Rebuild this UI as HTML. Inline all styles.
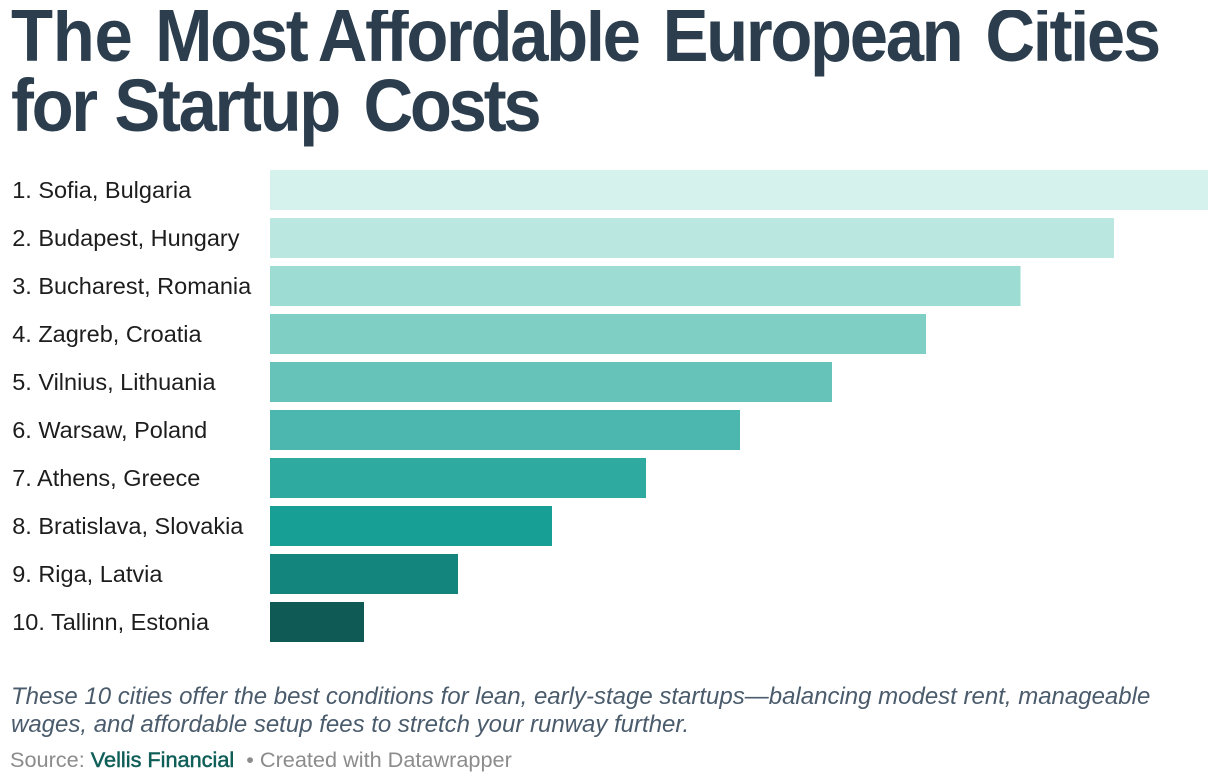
<!DOCTYPE html>
<html lang="en">
<head>
<meta charset="utf-8">
<title>The Most Affordable European Cities for Startup Costs</title>
<style>
html,body{margin:0;padding:0;background:#fff;}
#page{position:relative;width:1220px;height:784px;overflow:hidden;background:#fff;font-family:"Liberation Sans",sans-serif;}
#title-clip{position:absolute;left:0;top:10px;width:1220px;height:140px;overflow:hidden;}
.title-line{position:absolute;left:10.5px;white-space:nowrap;font-size:74px;line-height:70px;font-weight:700;color:#2c3e4e;letter-spacing:-2.5px;word-spacing:6.2px;transform:scaleX(.93);transform-origin:0 0;}
#chart{position:absolute;left:0;top:0;}
.note{position:absolute;left:11px;white-space:nowrap;font-style:italic;font-size:24px;line-height:28px;color:#4a5b6c;}
#footer{position:absolute;left:10px;top:746px;white-space:nowrap;font-size:21.7px;line-height:28px;color:#8c8c8c;}
#footer a{color:#0f5e58;text-decoration:none;-webkit-text-stroke:.5px #0f5e58;}
</style>
</head>
<body>
<div id="page">
  <div id="title-clip">
    <div class="title-line" style="top:-8.6px"><span style="letter-spacing:-0.3px">The</span> <span style="letter-spacing:-2.5px">Most</span> <span style="margin-left:-12px;word-spacing:7.7px">Affordable European Cities</span></div>
    <div class="title-line" style="top:61.4px"><span style="word-spacing:2px">for </span>Startup <span style="letter-spacing:-3.5px;margin-left:2px">Costs</span></div>
  </div>
  <svg id="chart" width="1220" height="660" viewBox="0 0 1220 660">
    <g id="labels"></g>
    <g id="bars" shape-rendering="crispEdges"></g>
  </svg>
  <div class="note" style="top:683px">These 10 cities offer the best conditions for lean, early-stage startups—balancing modest rent, manageable</div>
  <div class="note" style="top:711px">wages, and affordable setup fees to stretch your runway further.</div>
  <div id="footer"><span>Source: </span><a>Vellis Financial</a><span>&nbsp; • Created with Datawrapper</span></div>
</div>
<script>
const categories = ["1. Sofia, Bulgaria","2. Budapest, Hungary","3. Bucharest, Romania","4. Zagreb, Croatia","5. Vilnius, Lithuania","6. Warsaw, Poland","7. Athens, Greece","8. Bratislava, Slovakia","9. Riga, Latvia","10. Tallinn, Estonia"];
const scores = [10,9,8,6.995,5.99,5.01,4.01,3.005,2.005,1];
const barPalette = ["#d5f3ec","#bae8e1","#9ddcd2","#80cfc4","#66c3ba","#4cb7ae","#2eaaa0","#189f95","#13857c","#105a55"];

const SVG_NS = "http://www.w3.org/2000/svg";
const plotLeft = 270, plotRight = 1208, plotTop = 170, rowStep = 48, barHeight = 40;
const domainMax = 10;
function xScale(v){ return plotLeft + (v / domainMax) * (plotRight - plotLeft); }
function yScale(i){ return plotTop + i * rowStep; }

const barsGroup = document.getElementById("bars");
const labelsGroup = document.getElementById("labels");
categories.forEach(function(name, i){
  const label = document.createElementNS(SVG_NS, "text");
  label.setAttribute("x", 12.2);
  label.setAttribute("y", yScale(i) + 28);
  label.setAttribute("font-family", '"Liberation Sans", sans-serif');
  label.setAttribute("font-size", "23.5");
  label.setAttribute("fill", "#1d1d1d");
  
  
  label.textContent = name;
  labelsGroup.appendChild(label);

  const bar = document.createElementNS(SVG_NS, "rect");
  bar.setAttribute("x", xScale(0));
  bar.setAttribute("y", yScale(i));
  bar.setAttribute("width", xScale(scores[i]) - xScale(0));
  bar.setAttribute("height", barHeight);
  bar.setAttribute("fill", barPalette[i % barPalette.length]);
  
  
  barsGroup.appendChild(bar);
});
</script>
</body>
</html>
